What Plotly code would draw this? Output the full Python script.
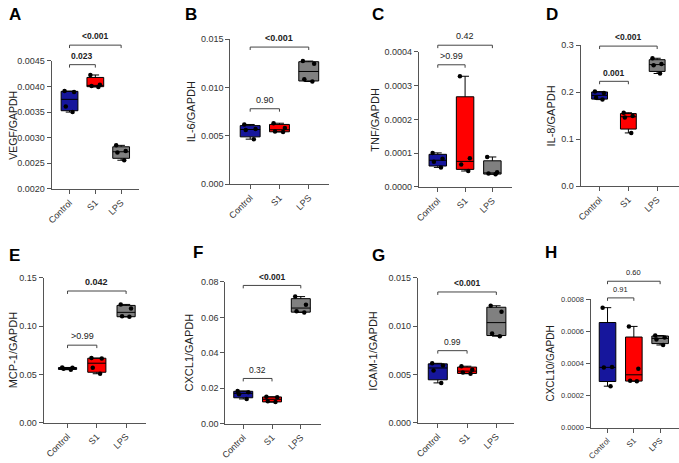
import numpy as np
import plotly.graph_objects as go

W, H = 679, 463
FONT = "Arial, Liberation Sans, sans-serif"

groups = ["Control", "S1", "LPS"]
group_colors = ["#16169c", "#ff0000", "#808080"]

# ---- data, one list per group: Control, S1, LPS ----
vegf = [[0.003499, 0.003606, 0.003889, 0.003908],
        [0.00399, 0.00401, 0.00403, 0.004223],
        [0.00256, 0.00271, 0.00274, 0.00285]]
il6 = [[0.00465, 0.0056, 0.0057, 0.00617],
       [0.0054, 0.00545, 0.0058, 0.0063],
       [0.01062, 0.01085, 0.01247, 0.01274]]
tnf = [[0.000058, 0.0000744, 0.000084, 0.000101],
       [0.0000473, 0.0000667, 0.000085, 0.000328],
       [0.0000377, 0.000040, 0.0000435, 0.0000889]]
il8 = [[0.184, 0.188, 0.198, 0.201],
       [0.113, 0.146, 0.149, 0.156],
       [0.2396, 0.257, 0.26, 0.272]]
mcp1 = [[0.055, 0.056, 0.057, 0.0573],
        [0.0508, 0.0569, 0.0665, 0.067],
        [0.1097, 0.1103, 0.1185, 0.1226]]
cxcl1 = [[0.014, 0.0166, 0.0177, 0.0185],
         [0.0122, 0.0127, 0.0149, 0.0152],
         [0.0628, 0.0634, 0.0671, 0.0717]]
icam1 = [[0.00413, 0.00542, 0.00593, 0.00616],
         [0.00508, 0.0052, 0.0055, 0.00586],
         [0.00897, 0.00924, 0.01151, 0.01212]]
cxcl10 = [[0.000259, 0.000375, 0.000378, 0.000749],
          [0.00029, 0.000293, 0.000367, 0.000632],
          [0.000516, 0.000551, 0.000563, 0.000575]]

# p-value comparisons: (group i, group j, label, bold)
pvals_a = [(0, 1, "0.023", True), (0, 2, "<0.001", True)]
pvals_b = [(0, 1, "0.90", False), (0, 2, "<0.001", True)]
pvals_c = [(0, 1, ">0.99", False), (0, 2, "0.42", False)]
pvals_d = [(0, 1, "0.001", True), (0, 2, "<0.001", True)]
pvals_e = [(0, 1, ">0.99", False), (0, 2, "0.042", True)]
pvals_f = [(0, 1, "0.32", False), (0, 2, "<0.001", True)]
pvals_g = [(0, 1, "0.99", False), (0, 2, "<0.001", True)]
pvals_h = [(0, 1, "0.91", False), (0, 2, "0.60", False)]

# ---- layout config (pixel geometry: axis-left, first cat, last cat, axis-right, y-top, y-bottom) ----
panels = [
    dict(letter="A", data=vegf, title="VEGF/GAPDH", yr=(0.002, 0.0045), dt=0.0005, fmt=".4f",
         px=(47, 65, 117, 135, 57, 188), pv=pvals_a, blev=[0.004424, 0.004805],
         lxy=(2, 10), tx=8, tfs=10.5, fs=9, xfs=9, pfs=8.5, bw=0.65),
    dict(letter="B", data=il6, title="IL-6/GAPDH", yr=(0, 0.015), dt=0.005, fmt=".3f",
         px=(227, 247, 306, 326, 35, 183), pv=pvals_b, blev=[0.0078, 0.01419],
         lxy=(179, 10), tx=187, tfs=11, fs=9, xfs=9, pfs=9, bw=0.68),
    dict(letter="C", data=tnf, title="TNF/GAPDH", yr=(0, 0.0004), dt=0.0001, fmt=".4f",
         px=(417, 436, 491, 511, 48, 186), pv=pvals_c, blev=[0.000362, 0.00042],
         lxy=(368, 10), tx=373, tfs=11, fs=9, xfs=9, pfs=9, bw=0.64),
    dict(letter="D", data=il8, title="IL-8/GAPDH", yr=(0, 0.3), dt=0.1, fmt=".1f",
         px=(580, 599, 657, 679, 41, 185), pv=pvals_d, blev=[0.2229, 0.2979],
         lxy=(543, 10), tx=550, tfs=11, fs=9, xfs=9, pfs=8.5, bw=0.55),
    dict(letter="E", data=mcp1, title="MCP-1/GAPDH", yr=(0, 0.15), dt=0.05, fmt=".2f",
         px=(39, 63, 122, 142, 279, 427), pv=pvals_e, blev=[0.0804, 0.1365],
         lxy=(2, 256), tx=8, tfs=11, fs=9, xfs=9, pfs=9, bw=0.62),
    dict(letter="F", data=cxcl1, title="CXCL1/GAPDH", yr=(0, 0.08), dt=0.02, fmt=".2f",
         px=(222, 240, 298, 318, 283, 428), pv=pvals_f, blev=[0.02554, 0.078],
         lxy=(187, 253), tx=185, tfs=11, fs=9, xfs=9, pfs=8.5, bw=0.66),
    dict(letter="G", data=icam1, title="ICAM-1/GAPDH", yr=(0, 0.015), dt=0.005, fmt=".3f",
         px=(416, 436, 495, 513, 279, 427), pv=pvals_g, blev=[0.00747, 0.01355],
         lxy=(368, 256), tx=371, tfs=11, fs=9, xfs=9, pfs=8.5, bw=0.65),
    dict(letter="H", data=cxcl10, title="CXCL10/GAPDH", yr=(0, 0.0008), dt=0.0002, fmt=".4f",
         px=(590, 607, 660, 679, 301, 432), pv=pvals_h, blev=[0.00081, 0.000914],
         lxy=(542, 253), tx=550, tfs=10, fs=7.5, xfs=8, pfs=7.5, bw=0.63),
]

AXC = "#555555"


def py2paper(py):
    return 1 - py / H


fig = go.Figure()
shapes = []
annotations = []
layout_axes = {}

for k, p in enumerate(panels):
    n = k + 1
    xa = "x" if n == 1 else f"x{n}"
    ya = "y" if n == 1 else f"y{n}"
    xl, c0, c2, xr, yt, yb = p["px"]
    sp = (c2 - c0) / 2.0
    xrange = [(xl - c0) / sp, 2 + (xr - c2) / sp]
    y0, y1 = p["yr"]

    for gi, vals in enumerate(p["data"]):
        arr = np.array(vals)
        q1, med, q3 = np.percentile(arr, [25, 50, 75], method="weibull")
        fig.add_trace(go.Box(
            x=[gi], q1=[q1], median=[med], q3=[q3],
            lowerfence=[arr.min()], upperfence=[arr.max()],
            xaxis=xa, yaxis=ya, fillcolor=group_colors[gi],
            line=dict(color="black", width=1), width=p["bw"], whiskerwidth=0.45,
            boxpoints=False, showlegend=False, hoverinfo="skip"))
        fig.add_trace(go.Box(
            y=vals, x0=gi, xaxis=xa, yaxis=ya,
            fillcolor="rgba(0,0,0,0)", line=dict(color="rgba(0,0,0,0)", width=0),
            width=p["bw"], boxpoints="all", jitter=0.7, pointpos=0,
            marker=dict(color="black", size=4.5), showlegend=False, hoverinfo="skip"))

    ticks = np.round(np.arange(y0, y1 + p["dt"] / 2, p["dt"]), 6)
    layout_axes["xaxis" if n == 1 else f"xaxis{n}"] = dict(
        domain=[xl / W, xr / W], range=xrange, anchor=ya,
        tickmode="array", tickvals=[0, 1, 2], ticktext=groups, tickangle=-45,
        showline=True, linecolor=AXC, linewidth=1.2, ticks="outside", ticklen=4,
        tickcolor=AXC, tickwidth=1, showgrid=False, zeroline=False,
        tickfont=dict(family=FONT, size=p["xfs"], color="#333333"), fixedrange=True)
    layout_axes["yaxis" if n == 1 else f"yaxis{n}"] = dict(
        domain=[py2paper(yb), py2paper(yt)], range=[y0, y1], anchor=xa,
        tickmode="array", tickvals=list(ticks), tickformat=p["fmt"],
        showline=True, linecolor=AXC, linewidth=1.2, ticks="outside", ticklen=4,
        tickcolor=AXC, tickwidth=1, showgrid=False, zeroline=False,
        tickfont=dict(family=FONT, size=p["fs"], color="#333333"), fixedrange=True)

    def v2py(v):
        return yb - (v - y0) / (y1 - y0) * (yb - yt)

    # significance brackets
    for (i, j, lab, bold), lev in zip(p["pv"], p["blev"]):
        pyl = v2py(lev)
        shapes.append(dict(
            type="path", xref=xa, yref="paper",
            path=f"M {i},{py2paper(pyl + 3)} L {i},{py2paper(pyl)} L {j},{py2paper(pyl)} L {j},{py2paper(pyl + 3)}",
            line=dict(color="#444444", width=1)))
        annotations.append(dict(
            x=(i + j) / 2, y=py2paper(pyl - 9), xref=xa, yref="paper",
            text=f"<b>{lab}</b>" if bold else lab, showarrow=False,
            xanchor="center", yanchor="middle",
            font=dict(family=FONT, size=p["pfs"], color="#222222")))

    # y-axis title
    annotations.append(dict(
        x=p["tx"] / W, y=py2paper((yt + yb) / 2), xref="paper", yref="paper",
        text=p["title"], textangle=-90, showarrow=False,
        xanchor="center", yanchor="middle",
        font=dict(family=FONT, size=p["tfs"], color="#222222")))

    # panel letter
    lx, ly = p["lxy"]
    annotations.append(dict(
        x=lx / W, y=py2paper(ly), xref="paper", yref="paper",
        text=f"<b>{p['letter']}</b>", showarrow=False,
        xanchor="left", yanchor="middle",
        font=dict(family=FONT, size=17, color="black")))

fig.update_layout(
    width=W, height=H, margin=dict(l=0, r=0, t=0, b=0),
    paper_bgcolor="white", plot_bgcolor="white",
    boxmode="overlay", showlegend=False,
    shapes=shapes, annotations=annotations, **layout_axes)

fig.write_html("out.html")
